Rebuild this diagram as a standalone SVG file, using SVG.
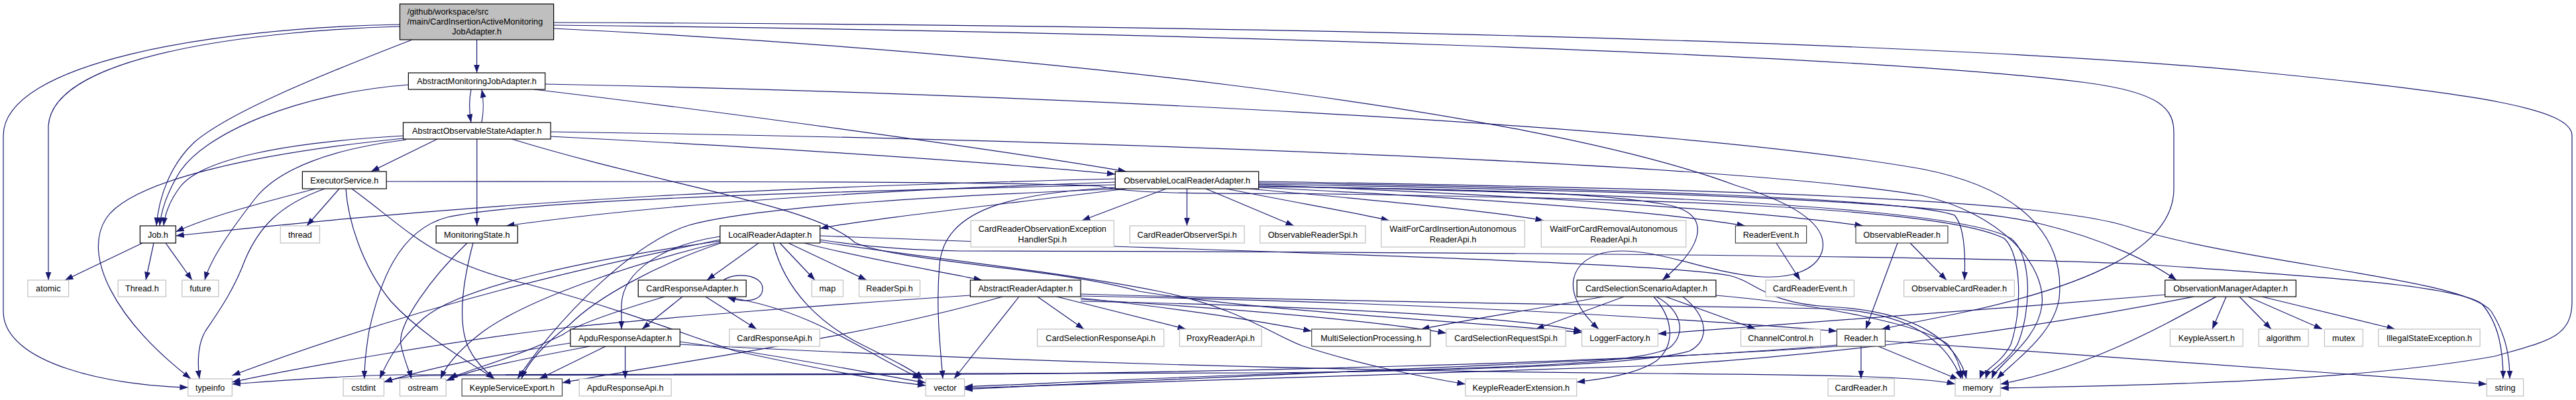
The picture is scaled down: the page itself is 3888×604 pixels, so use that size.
<svg xmlns="http://www.w3.org/2000/svg" width="3888" height="604" viewBox="0 0 3888 604">
<defs>
<marker id="a" markerUnits="userSpaceOnUse" markerWidth="13" markerHeight="10" refX="12.5" refY="4.5" orient="auto"><path d="M0,0 L12.5,4.5 L0,9 Z" fill="#191970"/></marker>
<style>
.n rect{fill:#fff;stroke:#000;stroke-width:1.2}
.n.g rect{stroke:#bfbfbf}
.n.d rect{stroke:#404040}
.n.r rect{fill:#bfbfbf}
text{font-family:"Liberation Sans",Arial,Helvetica,sans-serif;font-size:12.7px;text-anchor:middle;fill:#000}
.e path{fill:none;stroke:#191970;stroke-width:1.2;marker-end:url(#a)}
</style>
</defs>
<rect width="3888" height="604" fill="#fff"/>
<g id="edges" class="e">
<path d="M719.6,60 L719.6,110"/>
<path d="M603.5,40 C400,46 80,80 73,190 L73,423"/>
<path d="M603.5,37 C320,42 5,95 5,205 L5,470 C5,550 170,583 283.9,585"/>
<path d="M622,60 C480,115 345,170 293,215 C258,248 240,295 236,341"/>
<path d="M835.6,34 C1800,37 2900,60 3400,108 C3750,142 3882,165 3882,205 L3882,455 C3882,510 3845,515 3765,538 C3560,575 3250,582 3019.3,586"/>
<path d="M835.6,38 C1700,47 2800,80 3150,125 C3262,140 3281,165 3281,200 L3281,285 C3281,378 3140,432 2980,468 C2920,481 2870,490 2840,497"/>
<path d="M835.6,43 C1500,75 2300,160 2620,280 C2720,310 2760,345 2750,380 C2740,410 2700,420 2660,418 C2580,414 2500,372 2430,380 C2370,388 2350,440 2413,497"/>
<path d="M711,135 C708,150 708,168 711,185"/>
<path d="M727,185 C730,170 730,150 727,135"/>
<path d="M616.4,128 C455,140 305,200 268,265 C250,296 243,320 241,341"/>
<path d="M806,135 C1100,170 1500,225 1700,259"/>
<path d="M822.8,127 C1500,140 2500,185 2900,255 C3080,290 3115,380 3108,450 C3100,505 3040,545 3014,572"/>
<path d="M608.5,205 C430,215 305,240 272,282 C257,302 249,322 247,341"/>
<path d="M608.5,209 C400,230 200,270 160,330 C125,385 170,480 288,572"/>
<path d="M613,211 C500,225 420,255 385,300 C350,345 318,390 309,423"/>
<path d="M660,210 L560,259"/>
<path d="M719.8,210 L719.8,341"/>
<path d="M831.1,206 C1200,225 1500,245 1683.3,263"/>
<path d="M831.1,199 C1600,210 2600,245 2900,295 C3020,322 3088,400 3082,460 C3076,515 3015,550 3006,572"/>
<path d="M772.6,210 C1000,280 1230,310 1290,366 C1350,395 1600,405 1720,440 C1900,470 2250,488 2387.6,502"/>
<path d="M476,285 C400,305 320,325 265.3,350"/>
<path d="M512,285 L463,341"/>
<path d="M490,285 C420,310 390,345 370,392 C352,440 330,470 310,500 C298,520 298,550 301,572"/>
<path d="M522,285 C525,330 545,400 590,455 C640,510 715,550 746,572"/>
<path d="M531,285 C620,350 650,395 800,430 C950,470 1060,515 1110,530 C1250,560 1330,575 1397.3,582"/>
<path d="M583.2,274 C1100,274 1500,274 1660,281 C1700,293 1850,293 1950,292 C2500,300 2930,312 3025,360 C3052,385 3052,470 3035,520 C3020,550 2992,560 2988,572"/>
<path d="M1683.3,270 C1200,282 800,298 265.3,356"/>
<path d="M1683.3,275 C1300,288 1000,308 764,341"/>
<path d="M1683.3,279 C1300,288 800,300 675,328 C600,348 572,430 557,500 C552,530 550,552 550,572"/>
<path d="M1690,285 C1450,295 1150,310 1040,340 C960,365 850,470 781,572"/>
<path d="M1700,285 C1500,310 1300,332 1237.7,345"/>
<path d="M1683.3,283 C1520,292 1425,318 1418,400 C1412,470 1420,530 1423,572"/>
<path d="M1760,285 L1633,333"/>
<path d="M1791.5,285 L1791.5,341"/>
<path d="M1820,285 L1953,341"/>
<path d="M1851,285 C1950,305 2040,320 2097,333"/>
<path d="M1885,285 C2050,300 2250,318 2330,333"/>
<path d="M1899.7,283 C2200,298 2500,318 2634,341"/>
<path d="M1899.7,279 C2300,295 2650,318 2812,341"/>
<path d="M1899.7,276 C2400,283 2880,300 2950,325 C2968,345 2966,400 2965,423"/>
<path d="M1899.7,278 C2500,288 2950,305 3080,338 C3180,362 3250,398 3285,423"/>
<path d="M1899.7,281 C2500,292 2960,315 3035,360 C3068,385 3066,470 3045,520 C3028,550 3000,560 2997,572"/>
<path d="M1899.7,274 C2600,285 3100,300 3220,345 C3400,400 3720,420 3760,470 C3785,510 3788,545 3788,572"/>
<path d="M1899.7,282 C2200,285 2420,290 2520,310 C2585,325 2570,372 2509,423"/>
<path d="M1237.7,362 C1300,372 1380,378 1450,379 C2000,380 3000,385 3250,400 C3500,418 3700,430 3745,458 C3772,488 3778,530 3778,572"/>
<path d="M1145,367 L1067,423"/>
<path d="M1087,357 C1000,370 940,410 938,460 L938,497"/>
<path d="M1177,367 L1230,423"/>
<path d="M1190,367 L1308,423"/>
<path d="M1214,367 C1300,390 1420,410 1482,423"/>
<path d="M1167,367 C1185,440 1240,490 1300,520 C1350,545 1380,560 1393,572"/>
<path d="M1086.8,362 C900,400 650,455 350.3,567"/>
<path d="M1086.8,364 C900,390 700,430 640,480 C600,515 585,545 573,572"/>
<path d="M1086.8,366 C950,400 800,450 730,500 C690,530 672,555 665,572"/>
<path d="M1088,367 C990,400 900,450 860,490 C820,520 795,550 787,572"/>
<path d="M1237.7,365 C1400,390 1600,410 1750,440 C1870,465 1920,505 1965,522 C2050,550 2150,570 2211.8,580"/>
<path d="M1237.7,356 C1800,378 2500,395 2610,416 C2650,425 2665,458 2760,463 C2900,470 2955,520 2968,572"/>
<path d="M1092,423 C1110,410 1151,415 1151,435.5 C1151,455 1125,458 1098,449"/>
<path d="M1030,448 L969,497"/>
<path d="M1065,448 L1142,497"/>
<path d="M1003,448 C930,470 870,490 850,505 C780,540 700,560 678,572"/>
<path d="M1100,449 C1230,470 1300,530 1390,572"/>
<path d="M943.6,523 L943.6,572"/>
<path d="M914,523 L814,572"/>
<path d="M890,523 C800,540 720,555 673.2,575"/>
<path d="M861,518 C750,535 650,555 579.5,577"/>
<path d="M1026.3,516 C1200,540 1320,565 1397.3,578"/>
<path d="M1026.3,520 C1500,545 2000,560 2500,564 C2750,566 2900,568 2951,580"/>
<path d="M705,367 C650,420 600,490 605,520 C610,545 618,560 621,572"/>
<path d="M714,367 C700,420 690,480 705,520 C715,545 735,562 746,572"/>
<path d="M215,367 L98,423"/>
<path d="M232,367 L220,423"/>
<path d="M250,367 L290,423"/>
<path d="M2681,367 L2717,423"/>
<path d="M2864,367 L2816,497"/>
<path d="M2883,367 L2938,423"/>
<path d="M2420,448 C2300,470 2200,485 2145,497"/>
<path d="M2451,448 L2318,497"/>
<path d="M2496,448 C2525,480 2530,520 2500,545 C2470,565 2420,572 2379.7,577"/>
<path d="M2514,448 L2650,497"/>
<path d="M2589.9,446 C2750,460 2900,490 2940,520 C2955,540 2960,560 2962,572"/>
<path d="M2500,448 C2540,470 2545,505 2520,525 C2480,548 2300,555 2000,562 C1800,568 1600,578 1455.7,584"/>
<path d="M2540,448 C2580,480 2580,515 2550,530 C2480,552 2200,560 1900,563 L600,566 C520,567 420,575 350.3,580"/>
<path d="M3360,448 L3339,497"/>
<path d="M3380,448 L3428,497"/>
<path d="M3393,448 L3505,497"/>
<path d="M3414,448 L3615,497"/>
<path d="M3345,448 C3250,500 3150,555 3019.3,580"/>
<path d="M3267.7,445 C3000,468 2700,490 2502.4,504"/>
<path d="M3311,448 C3000,510 2700,540 2500,552 C2200,565 1700,575 1455.7,586"/>
<path d="M2808.9,523 L2808.9,572"/>
<path d="M2835,523 L2956,573"/>
<path d="M2845.4,515 C3200,540 3600,570 3753.3,580"/>
<path d="M2772.4,521 C2500,545 2000,560 1455.7,588"/>
<path d="M2772.4,523 C2400,550 1800,562 1500,565 L650,567 C620,568 600,570 579.5,577"/>
<path d="M1464.5,446 C1250,460 1000,480 860,494 C700,512 450,555 350.3,577"/>
<path d="M1513,448 C1300,510 1000,550 848.5,578"/>
<path d="M1538,448 L1440,572"/>
<path d="M1566,448 L1636,497"/>
<path d="M1595,448 L1790,497"/>
<path d="M1631.1,450 C1800,468 1900,485 1979.7,500"/>
<path d="M1631.1,452 C1900,468 2100,488 2182.8,503"/>
<path d="M1631.1,455 C2000,462 2300,480 2387.6,500"/>
<path d="M1631.1,447 C2100,455 2500,478 2772.4,500"/>
<path d="M1631.1,444 C2000,455 2500,462 2760,466 C2890,472 2940,520 2960,572"/>
</g>
<g id="root" class="n r"><rect x="603.5" y="6" width="232.1" height="54"/><text x="614.7" y="22" style="text-anchor:start">/github/workspace/src</text><text x="614.7" y="37" style="text-anchor:start">/main/CardInsertionActiveMonitoring</text><text x="719.6" y="51.5">JobAdapter.h</text></g>
<g id="AbstractMonitoringJobAdapter" class="n"><rect x="616.4" y="110" width="206.4" height="25"/><text x="719.6" y="127">AbstractMonitoringJobAdapter.h</text></g>
<g id="AbstractObservableStateAdapter" class="n"><rect x="608.5" y="185" width="222.6" height="25"/><text x="719.8" y="202">AbstractObservableStateAdapter.h</text></g>
<g id="ExecutorService" class="n"><rect x="456.4" y="259" width="126.8" height="26"/><text x="519.8" y="276.5">ExecutorService.h</text></g>
<g id="ObservableLocalReaderAdapter" class="n"><rect x="1683.3" y="259" width="216.4" height="26"/><text x="1791.5" y="276.5">ObservableLocalReaderAdapter.h</text></g>
<g id="Job" class="n"><rect x="211.4" y="341" width="53.9" height="26"/><text x="238.4" y="358.5">Job.h</text></g>
<g id="thread" class="n g"><rect x="423.2" y="341" width="59.3" height="26"/><text x="452.9" y="358.5">thread</text></g>
<g id="MonitoringState" class="n"><rect x="658.2" y="341" width="123.1" height="26"/><text x="719.8" y="358.5">MonitoringState.h</text></g>
<g id="LocalReaderAdapter" class="n"><rect x="1086.8" y="341" width="150.9" height="26"/><text x="1162.3" y="358.5">LocalReaderAdapter.h</text></g>
<g id="CardReaderObservationExceptionHandlerSpi" class="n g"><rect x="1465.3" y="333" width="215.9" height="40"/><text x="1573.3" y="350">CardReaderObservationException</text><text x="1573.3" y="365.5">HandlerSpi.h</text></g>
<g id="CardReaderObserverSpi" class="n g"><rect x="1705.3" y="341" width="172.8" height="26"/><text x="1791.7" y="358.5">CardReaderObserverSpi.h</text></g>
<g id="ObservableReaderSpi" class="n g"><rect x="1901.8" y="341" width="159.1" height="26"/><text x="1981.4" y="358.5">ObservableReaderSpi.h</text></g>
<g id="WaitForCardInsertionAutonomousReaderApi" class="n g"><rect x="2084.6" y="333" width="216.7" height="40"/><text x="2193" y="350">WaitForCardInsertionAutonomous</text><text x="2193" y="365.5">ReaderApi.h</text></g>
<g id="WaitForCardRemovalAutonomousReaderApi" class="n g"><rect x="2326.2" y="333" width="218.5" height="40"/><text x="2435.5" y="350">WaitForCardRemovalAutonomous</text><text x="2435.5" y="365.5">ReaderApi.h</text></g>
<g id="ReaderEvent" class="n d"><rect x="2619.4" y="341" width="107.2" height="26"/><text x="2673" y="358.5">ReaderEvent.h</text></g>
<g id="ObservableReader" class="n d"><rect x="2801" y="341" width="138.9" height="26"/><text x="2870.5" y="358.5">ObservableReader.h</text></g>
<g id="atomic" class="n g"><rect x="41.9" y="423" width="61.7" height="25"/><text x="72.8" y="440">atomic</text></g>
<g id="Thread" class="n g"><rect x="178.2" y="423" width="72.2" height="25"/><text x="214.3" y="440">Thread.h</text></g>
<g id="future" class="n g"><rect x="274.8" y="423" width="55.1" height="25"/><text x="302.4" y="440">future</text></g>
<g id="CardResponseAdapter" class="n"><rect x="963.3" y="423" width="162.9" height="25"/><text x="1044.8" y="440">CardResponseAdapter.h</text></g>
<g id="map" class="n g"><rect x="1225.3" y="423" width="47.2" height="25"/><text x="1248.9" y="440">map</text></g>
<g id="ReaderSpi" class="n g"><rect x="1296.6" y="423" width="92" height="25"/><text x="1342.6" y="440">ReaderSpi.h</text></g>
<g id="AbstractReaderAdapter" class="n"><rect x="1464.5" y="423" width="166.6" height="25"/><text x="1547.8" y="440">AbstractReaderAdapter.h</text></g>
<g id="CardSelectionScenarioAdapter" class="n"><rect x="2380.1" y="423" width="209.8" height="25"/><text x="2485" y="440">CardSelectionScenarioAdapter.h</text></g>
<g id="CardReaderEvent" class="n g"><rect x="2665.1" y="423" width="133.3" height="25"/><text x="2731.8" y="440">CardReaderEvent.h</text></g>
<g id="ObservableCardReader" class="n g"><rect x="2873.6" y="423" width="166.7" height="25"/><text x="2957" y="440">ObservableCardReader.h</text></g>
<g id="ObservationManagerAdapter" class="n"><rect x="3267.7" y="423" width="197.7" height="25"/><text x="3366.6" y="440">ObservationManagerAdapter.h</text></g>
<g id="ApduResponseAdapter" class="n"><rect x="860.9" y="497" width="165.4" height="26"/><text x="943.6" y="514.5">ApduResponseAdapter.h</text></g>
<g id="CardResponseApi" class="n g"><rect x="1100.9" y="497" width="136.4" height="26"/><text x="1169.1" y="514.5">CardResponseApi.h</text></g>
<g id="CardSelectionResponseApi" class="n g"><rect x="1565.6" y="497" width="191.1" height="26"/><text x="1661.2" y="514.5">CardSelectionResponseApi.h</text></g>
<g id="ProxyReaderApi" class="n g"><rect x="1780.3" y="497" width="123.9" height="26"/><text x="1842.3" y="514.5">ProxyReaderApi.h</text></g>
<g id="MultiSelectionProcessing" class="n d"><rect x="1979.7" y="497" width="179.1" height="26"/><text x="2069.3" y="514.5">MultiSelectionProcessing.h</text></g>
<g id="CardSelectionRequestSpi" class="n g"><rect x="2182.8" y="497" width="180.3" height="26"/><text x="2273" y="514.5">CardSelectionRequestSpi.h</text></g>
<g id="LoggerFactory" class="n g"><rect x="2387.6" y="497" width="114.8" height="26"/><text x="2445" y="514.5">LoggerFactory.h</text></g>
<g id="ChannelControl" class="n g"><rect x="2627.5" y="497" width="120.1" height="26"/><text x="2687.6" y="514.5">ChannelControl.h</text></g>
<g id="Reader" class="n d"><rect x="2772.4" y="497" width="73" height="26"/><text x="2808.9" y="514.5">Reader.h</text></g>
<g id="KeypleAssert" class="n g"><rect x="3275.4" y="497" width="109.9" height="26"/><text x="3330.4" y="514.5">KeypleAssert.h</text></g>
<g id="algorithm" class="n g"><rect x="3409.1" y="497" width="75" height="26"/><text x="3446.6" y="514.5">algorithm</text></g>
<g id="mutex" class="n g"><rect x="3508.4" y="497" width="57.9" height="26"/><text x="3537.4" y="514.5">mutex</text></g>
<g id="IllegalStateException" class="n g"><rect x="3589.8" y="497" width="153.3" height="26"/><text x="3666.5" y="514.5">IllegalStateException.h</text></g>
<g id="typeinfo" class="n g"><rect x="283.9" y="572" width="66.4" height="26"/><text x="317.1" y="589.5">typeinfo</text></g>
<g id="cstdint" class="n g"><rect x="518.1" y="572" width="61.4" height="26"/><text x="548.8" y="589.5">cstdint</text></g>
<g id="ostream" class="n g"><rect x="603.5" y="572" width="69.7" height="26"/><text x="638.4" y="589.5">ostream</text></g>
<g id="KeypleServiceExport" class="n d"><rect x="697.2" y="572" width="151.3" height="26"/><text x="772.9" y="589.5">KeypleServiceExport.h</text></g>
<g id="ApduResponseApi" class="n g"><rect x="874.2" y="572" width="138.9" height="26"/><text x="943.7" y="589.5">ApduResponseApi.h</text></g>
<g id="vector" class="n g"><rect x="1397.3" y="572" width="58.4" height="26"/><text x="1426.5" y="589.5">vector</text></g>
<g id="KeypleReaderExtension" class="n g"><rect x="2211.8" y="572" width="167.9" height="26"/><text x="2295.8" y="589.5">KeypleReaderExtension.h</text></g>
<g id="CardReader" class="n g"><rect x="2759.1" y="572" width="100" height="26"/><text x="2809.1" y="589.5">CardReader.h</text></g>
<g id="memory" class="n g"><rect x="2951" y="572" width="68.3" height="26"/><text x="2985.2" y="589.5">memory</text></g>
<g id="string" class="n g"><rect x="3753.3" y="572" width="55.4" height="26"/><text x="3781" y="589.5">string</text></g>
</svg>
